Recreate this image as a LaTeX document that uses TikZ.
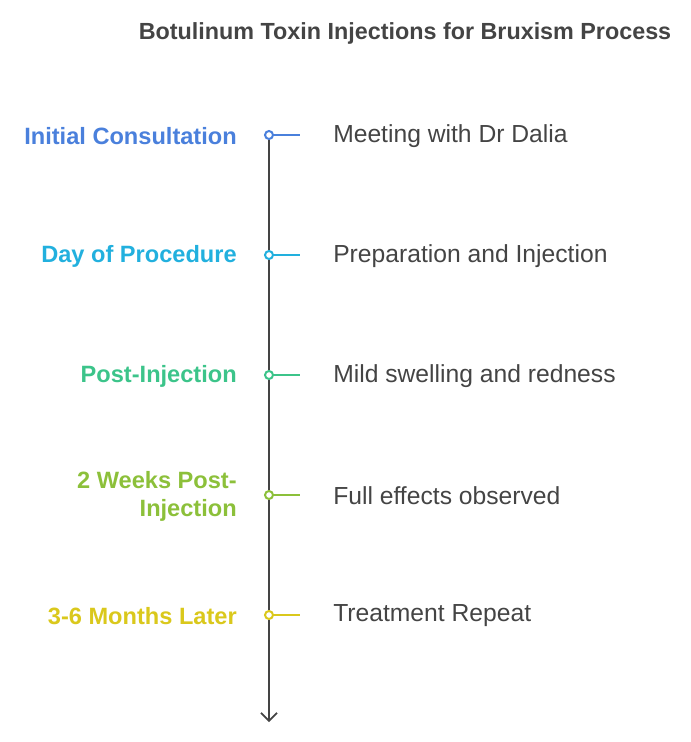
\documentclass[tikz,border=0pt]{standalone}
\usepackage{fontspec}
\setmainfont{Liberation Sans}
\usetikzlibrary{arrows.meta}

\definecolor{axisgray}{RGB}{68,68,68}
\definecolor{textgray}{RGB}{68,68,68}
\definecolor{stepblue}{RGB}{74,128,220}
\definecolor{stepcyan}{RGB}{34,176,222}
\definecolor{stepgreen}{RGB}{60,196,138}
\definecolor{steplime}{RGB}{140,192,58}
\definecolor{stepyellow}{RGB}{218,200,28}

\tikzset{
  dot/.style={circle,draw=#1,fill=white,line width=1.5pt,inner sep=0pt,minimum size=6pt},
  tick/.style={draw=#1,line width=1.3pt},
  phase/.style={anchor=east,inner sep=0pt,align=right,text=#1,font=\fontsize{17.7}{21}\selectfont\bfseries},
  detail/.style={anchor=west,inner sep=0pt,text=textgray,font=\fontsize{18.5}{21}\selectfont}
}

\begin{document}
\begin{tikzpicture}[x=0.75pt,y=0.75pt,yscale=-1,xscale=1]
\useasboundingbox (0,0) rectangle (690,742);

% Title
\node (title) [anchor=center,inner sep=0pt,text=textgray,font=\fontsize{17.5}{21}\selectfont\bfseries] at (405,33) {Botulinum Toxin Injections for Bruxism Process};

%Timeline axis
\coordinate (top) at (269,135);
\coordinate (bottom) at (269,722);
\draw [axisgray,line width=1.3pt,-{Straight Barb[length=6pt,width=12pt]}] (top) -- (bottom);

%Step 1
\node (d1) [dot=stepblue] at (269,135) {};
\coordinate (e1) at (300,135);
\draw [tick=stepblue] (d1) -- (e1);
\node (p1) [phase=stepblue] at (237,136) {Initial Consultation};
\node (t1) [detail] at (333,136) {Meeting with Dr Dalia};

%Step 2
\node (d2) [dot=stepcyan] at (269,255) {};
\coordinate (e2) at (300,255);
\draw [tick=stepcyan] (d2) -- (e2);
\node (p2) [phase=stepcyan] at (237,256) {Day of Procedure};
\node (t2) [detail] at (333,256) {Preparation and Injection};

%Step 3
\node (d3) [dot=stepgreen] at (269,375) {};
\coordinate (e3) at (300,375);
\draw [tick=stepgreen] (d3) -- (e3);
\node (p3) [phase=stepgreen] at (237,376) {Post-Injection};
\node (t3) [detail] at (333,376) {Mild swelling and redness};

%Step 4
\node (d4) [dot=steplime] at (269,495) {};
\coordinate (e4) at (300,495);
\draw [tick=steplime] (d4) -- (e4);
\node (p4) [phase=steplime] at (237,496) {2 Weeks Post-\\Injection};
\node (t4) [detail] at (333,496) {Full effects observed};

%Step 5
\node (d5) [dot=stepyellow] at (269,615) {};
\coordinate (e5) at (300,615);
\draw [tick=stepyellow] (d5) -- (e5);
\node (p5) [phase=stepyellow] at (237,616) {3-6 Months Later};
\node (t5) [detail] at (333,616) {Treatment Repeat};

\end{tikzpicture}
\end{document}
